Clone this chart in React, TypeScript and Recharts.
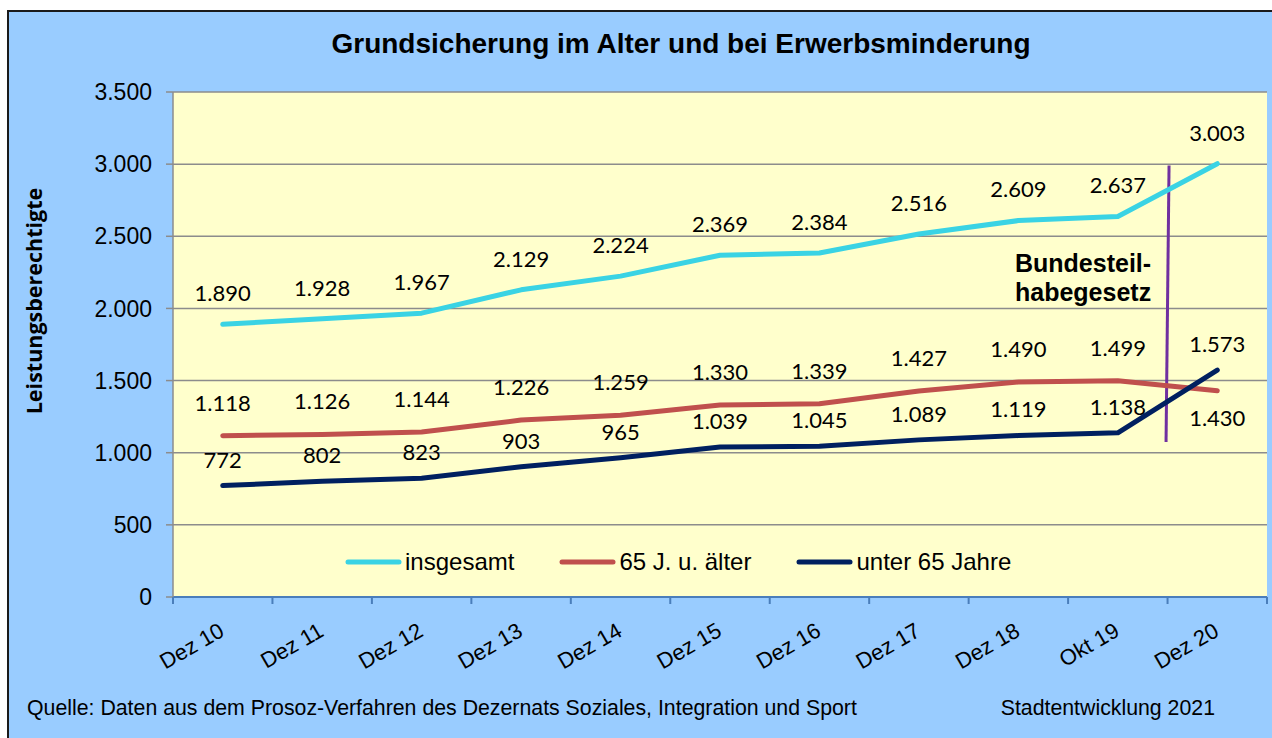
import React from 'react';
import { LineChart, Line, XAxis, YAxis, CartesianGrid, LabelList, ReferenceLine, Legend } from 'recharts';

const categories = ['Dez 10', 'Dez 11', 'Dez 12', 'Dez 13', 'Dez 14', 'Dez 15', 'Dez 16', 'Dez 17', 'Dez 18', 'Okt 19', 'Dez 20'];
const insgesamt = [1890, 1928, 1967, 2129, 2224, 2369, 2384, 2516, 2609, 2637, 3003];
const aelter65 = [1118, 1126, 1144, 1226, 1259, 1330, 1339, 1427, 1490, 1499, 1430];
const unter65 = [772, 802, 823, 903, 965, 1039, 1045, 1089, 1119, 1138, 1573];
const yTicks = [0, 500, 1000, 1500, 2000, 2500, 3000, 3500];
const seriesNames = ['insgesamt', '65 J. u. älter', 'unter 65 Jahre'];
const seriesColors = ['#3AD3E4', '#C0504D', '#002060'];
const title = 'Grundsicherung im Alter und bei Erwerbsminderung';
const yLabel = 'Leistungsberechtigte';
const sourceNote = 'Quelle: Daten aus dem Prosoz-Verfahren des Dezernats Soziales, Integration und Sport';
const creditNote = 'Stadtentwicklung 2021';
const annotationLines = ['Bundesteil-', 'habegesetz'];
const annotationCategory = 'Dez 20';
const annotationRange = [1075, 2990];

const data = categories.map((cat, i) => ({
  cat,
  insgesamt: insgesamt[i],
  aelter65: aelter65[i],
  unter65: unter65[i],
}));

const W = 1272;
const H = 738;
const PLOT_LEFT = 173;
const PLOT_TOP = 92;
const PLOT_RIGHT = 1267;
const PLOT_BOTTOM = 597;
const BAND = (PLOT_RIGHT - PLOT_LEFT) / categories.length;
const ARIAL = 'Arial, "Liberation Sans", sans-serif';
const LABEL_FONT = 'Lato, "Open Sans", sans-serif';

const fmt = (v: number) => String(v).replace(/\B(?=(\d{3})+(?!\d))/g, '.');

const makeLabel = (offset: number, lastBelow = false) => (props: any) => {
  const { x, y, value, index } = props;
  const below = lastBelow && index === categories.length - 1;
  const dy = below ? 27 : -offset;
  return (
    <text x={x} y={y + dy} dy="0.36em" textAnchor="middle" fontFamily={LABEL_FONT} fontSize={22} fill="#000">
      {fmt(value)}
    </text>
  );
};

const XTick = (props: any) => {
  const { x, y, payload, index } = props;
  const isLast = index === categories.length - 1;
  const ax = x + 3;
  const ay = y + 38;
  return (
    <g>
      <line x1={x - BAND / 2} y1={y} x2={x - BAND / 2} y2={y + 7} stroke="#4A7EBB" strokeWidth={2} />
      {isLast && <line x1={x + BAND / 2} y1={y} x2={x + BAND / 2} y2={y + 7} stroke="#4A7EBB" strokeWidth={2} />}
      <text x={ax} y={ay} textAnchor="end" transform={`rotate(-30, ${ax}, ${ay})`} fontFamily={ARIAL} fontSize={22} fill="#000">
        {payload.value}
      </text>
    </g>
  );
};

const BoundaryLine = (p: any) => (
  <line
    x1={p.x1 - BAND / 2 + 1.5}
    y1={p.y1}
    x2={p.x2 - BAND / 2 - 1.5}
    y2={p.y2}
    stroke="#7030A0"
    strokeWidth={3}
  />
);

const LegendContent = () => (
  <div style={{ display: 'flex', alignItems: 'center', gap: 45, height: 28 }}>
    {seriesNames.map((name, i) => (
      <div key={name} style={{ display: 'flex', alignItems: 'center' }}>
        <svg width={57} height={10} style={{ display: 'block' }}>
          <line x1={3} y1={5} x2={54} y2={5} stroke={seriesColors[i]} strokeWidth={5} strokeLinecap="round" />
        </svg>
        <span style={{ fontFamily: ARIAL, fontSize: 24, color: '#000', marginLeft: 3, whiteSpace: 'nowrap' }}>{name}</span>
      </div>
    ))}
  </div>
);

export default function App() {
  return (
    <div style={{ position: 'relative', width: W, height: H, overflow: 'hidden', background: '#fff' }}>
      <style>{'body{margin:0}'}</style>
      <div
        style={{
          position: 'absolute',
          left: 7,
          top: 10,
          width: W + 20,
          height: H + 20,
          background: '#99CCFF',
          border: '2px solid #1a1a1a',
          boxSizing: 'border-box',
        }}
      />
      <div style={{ position: 'absolute', left: 0, top: 0 }}>
        <LineChart width={W} height={H} data={data} margin={{ top: PLOT_TOP, right: W - PLOT_RIGHT, bottom: 0, left: 0 }}>
          <CartesianGrid vertical={false} stroke="#8C8C8C" strokeWidth={1.5} fill="#FFFFCC" fillOpacity={1} />
          <XAxis
            dataKey="cat"
            height={H - PLOT_BOTTOM}
            interval={0}
            padding={{ left: BAND / 2, right: BAND / 2 }}
            tickSize={0}
            tickMargin={0}
            tickLine={false}
            axisLine={{ stroke: '#4A7EBB', strokeWidth: 2 }}
            tick={(p: any) => <XTick {...p} />}
          />
          <YAxis
            domain={[0, 3500]}
            ticks={yTicks}
            interval={0}
            width={PLOT_LEFT}
            tickSize={7}
            tickMargin={14}
            axisLine={{ stroke: '#8C8C8C', strokeWidth: 1.5 }}
            tickLine={{ stroke: '#8C8C8C', strokeWidth: 1.5 }}
            tick={{ fill: '#000', fontSize: 23, fontFamily: ARIAL }}
            tickFormatter={fmt}
          />
          <ReferenceLine
            segment={[
              { x: annotationCategory, y: annotationRange[1] },
              { x: annotationCategory, y: annotationRange[0] },
            ]}
            stroke="#7030A0"
            strokeWidth={3}
            shape={(p: any) => <BoundaryLine {...p} />}
          />
          <Legend
            verticalAlign="middle"
            layout="horizontal"
            align="center"
            wrapperStyle={{ position: 'absolute', left: 345, top: 548, width: 'auto', height: 28 }}
            content={() => <LegendContent />}
          />
          <Line dataKey="insgesamt" name={seriesNames[0]} stroke={seriesColors[0]} strokeWidth={5} dot={false} strokeLinecap="round" strokeLinejoin="round" isAnimationActive={false}>
            <LabelList dataKey="insgesamt" content={makeLabel(31)} />
          </Line>
          <Line dataKey="aelter65" name={seriesNames[1]} stroke={seriesColors[1]} strokeWidth={5} dot={false} strokeLinecap="round" strokeLinejoin="round" isAnimationActive={false}>
            <LabelList dataKey="aelter65" content={makeLabel(33, true)} />
          </Line>
          <Line dataKey="unter65" name={seriesNames[2]} stroke={seriesColors[2]} strokeWidth={5} dot={false} strokeLinecap="round" strokeLinejoin="round" isAnimationActive={false}>
            <LabelList dataKey="unter65" content={makeLabel(26)} />
          </Line>
        </LineChart>
      </div>
      <svg width={W} height={H} style={{ position: 'absolute', left: 0, top: 0, pointerEvents: 'none' }}>
        <text x={681} y={53} textAnchor="middle" fontFamily={ARIAL} fontWeight="bold" fontSize={28} fill="#000">
          {title}
        </text>
        <text x={42} y={301} textAnchor="middle" transform="rotate(-90, 42, 301)" fontFamily='"Open Sans", Lato, sans-serif' fontWeight="bold" fontSize={21.5} fill="#000">
          {yLabel}
        </text>
        <text x={1015} y={272} fontFamily={ARIAL} fontWeight="bold" fontSize={25} fill="#000">
          {annotationLines[0]}
        </text>
        <text x={1015} y={301} fontFamily={ARIAL} fontWeight="bold" fontSize={25} fill="#000">
          {annotationLines[1]}
        </text>
        <text x={27} y={715} fontFamily={ARIAL} fontSize={21.3} fill="#000">
          {sourceNote}
        </text>
        <text x={1215} y={715} textAnchor="end" fontFamily={ARIAL} fontSize={21.3} fill="#000">
          {creditNote}
        </text>
      </svg>
    </div>
  );
}
